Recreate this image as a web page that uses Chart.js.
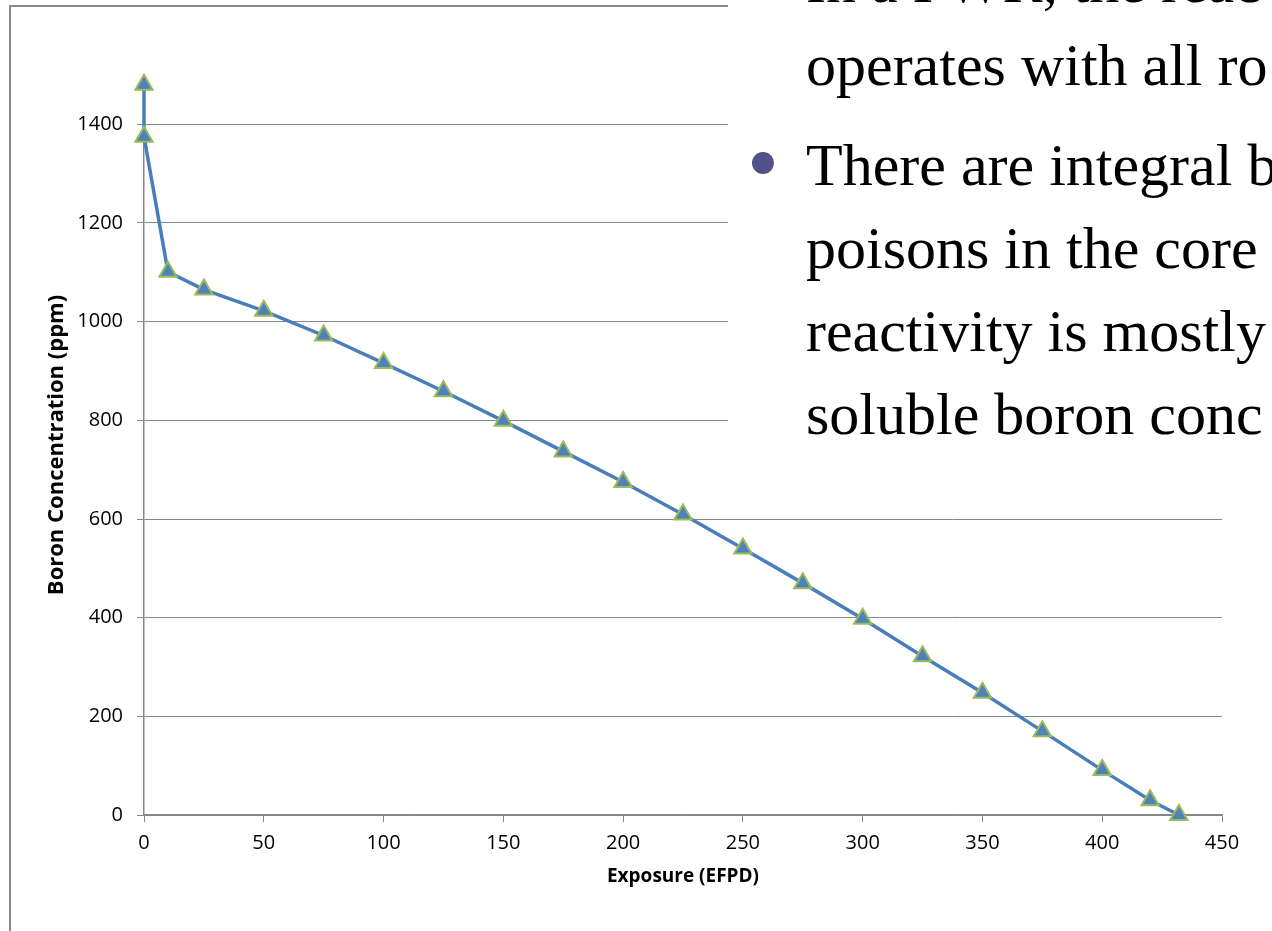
<!DOCTYPE html>
<html>
<head>
<meta charset="utf-8">
<script src="https://cdn.jsdelivr.net/npm/chart.js@4.4.1/dist/chart.umd.min.js"></script>
<style>
    html, body { margin: 0; padding: 0; background: #fff; overflow: hidden; }
    #wrap { position: relative; width: 1272px; height: 931px; overflow: hidden; }
    #chart { position: absolute; left: 0; top: 0; }
    #frame {
        position: absolute; left: 9px; top: 5px; width: 1400px; height: 1000px;
        border: 2px solid #8a8a8a; box-sizing: border-box; pointer-events: none;
    }
    #textBox {
        position: absolute; left: 728px; top: 0; width: 544px; height: 470px;
        background: #fff; overflow: hidden;
        font-family: "Liberation Serif", "DejaVu Serif", serif; font-size: 60px; color: #000;
    }
    #textBox .line { position: absolute; left: 78px; white-space: nowrap; line-height: 60px; }
    #textBox .bullet {
        position: absolute; left: 24px; top: 152px; width: 22px; height: 22px;
        border-radius: 50%; background: #52528a;
    }
</style>
</head>
<body>
<div id="wrap">
    <canvas id="chart" width="1272" height="931"></canvas>
    <div id="frame"></div>
    <div id="textBox"></div>
</div>
<script>
// exposure in EFPD and boron concentration in ppm
const exposure = [0, 0, 10, 25, 50, 75, 100, 125, 150, 175, 200, 225, 250, 275, 300, 325, 350, 375, 400, 420, 432];
const boron = [1480, 1375, 1101, 1065, 1022, 972, 916, 859, 799, 737, 675, 609, 540, 470, 398, 322, 248, 170, 91, 30, 0];

const xTicks = [0, 50, 100, 150, 200, 250, 300, 350, 400, 450];
const yTicks = [0, 200, 400, 600, 800, 1000, 1200, 1400];

// slide text lying over the chart (baseline y in px)
const slideLines = [
    { text: "In a PWR, the reac", base: 2 },
    { text: "operates with all ro", base: 85 },
    { text: "There are integral b", base: 185 },
    { text: "poisons in the core", base: 268 },
    { text: "reactivity is mostly", base: 351 },
    { text: "soluble boron conc", base: 434 }
];

const box = document.getElementById("textBox");
slideLines.forEach(l => {
    const d = document.createElement("div");
    d.className = "line";
    d.textContent = l.text;
    d.style.top = (l.base - 50) + "px";
    box.appendChild(d);
});
const dot = document.createElement("div");
dot.className = "bullet";
box.appendChild(dot);

const gridColor = "#888888";
const tickFont = { family: "'Open Sans', sans-serif", size: 20 };
const xTitleFont = { family: "'Open Sans', sans-serif", size: 19, weight: "bold" };
const yTitleFont = { family: "'Open Sans', sans-serif", size: 22, weight: "bold" };

const points = exposure.map((x, i) => ({ x: x, y: boron[i] }));

new Chart(document.getElementById("chart"), {
    type: "line",
    data: {
        datasets: [{
            data: points,
            borderColor: "#4a7ebb",
            borderWidth: 3.5,
            pointStyle: "triangle",
            pointRadius: 10,
            pointBackgroundColor: "#4f81bd",
            pointBorderColor: "#9bbb59",
            pointBorderWidth: 2,
            tension: 0,
            clip: false
        }]
    },
    options: {
        responsive: false,
        animation: false,
        layout: { padding: { left: 0, top: 75, right: 50, bottom: 0 } },
        plugins: { legend: { display: false }, tooltip: { enabled: false } },
        scales: {
            x: {
                type: "linear",
                min: 0,
                max: 450,
                afterFit: s => { s.height = 116; },
                afterBuildTicks: s => { s.ticks = xTicks.map(v => ({ value: v })); },
                grid: { drawOnChartArea: false, color: gridColor, tickLength: 7, lineWidth: 1 },
                border: { color: gridColor, width: 1.5 },
                ticks: { font: tickFont, color: "#000", padding: 9, maxRotation: 0, callback: v => String(v) },
                title: {
                    display: true, text: "Exposure (EFPD)", font: xTitleFont, color: "#000",
                    padding: { top: 0, bottom: 43 }
                }
            },
            y: {
                type: "linear",
                min: 0,
                max: 1500,
                afterFit: s => { s.width = 144; },
                afterBuildTicks: s => { s.ticks = yTicks.map(v => ({ value: v })); },
                grid: { color: gridColor, tickLength: 7, lineWidth: 1 },
                border: { color: gridColor, width: 1.5 },
                ticks: { font: tickFont, color: "#000", padding: 14, callback: v => String(v) },
                title: {
                    display: true, text: "Boron Concentration (ppm)", font: yTitleFont, color: "#000",
                    padding: { top: 44, bottom: 0 }
                }
            }
        }
    }
});
</script>
</body>
</html>
